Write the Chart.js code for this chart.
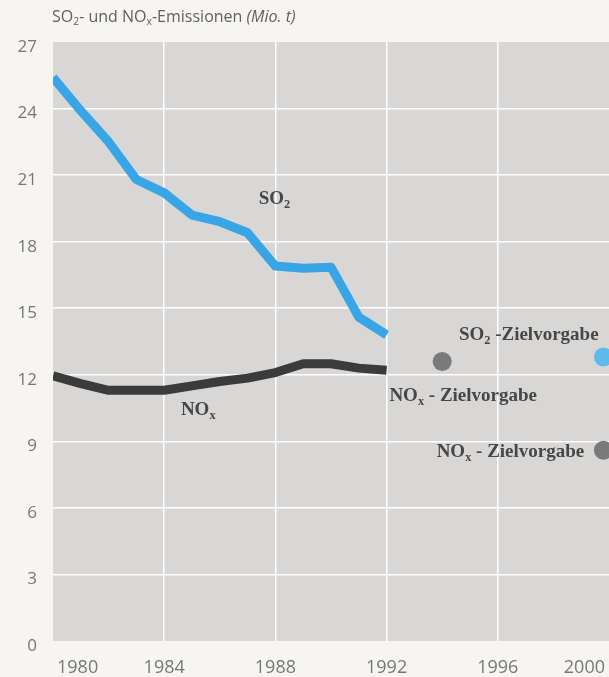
<!DOCTYPE html>
<html>
<head>
<meta charset="utf-8">
<script src="https://cdn.jsdelivr.net/npm/chart.js@4"></script>
<style>
  html, body { margin: 0; padding: 0; background: #f6f5f1; }
  #wrap { width: 609px; height: 677px; position: relative; }
</style>
</head>
<body>
<div id="wrap"><canvas id="chart" width="609" height="677"></canvas></div>
<script>
// Emissions data (Mio. t)
const years = [1980, 1981, 1982, 1983, 1984, 1985, 1986, 1987, 1988, 1989, 1990, 1991, 1992];
const so2Values = [25.4, 23.9, 22.5, 20.8, 20.2, 19.2, 18.9, 18.4, 16.9, 16.8, 16.85, 14.6, 13.8];
const noxValues = [11.95, 11.6, 11.3, 11.3, 11.3, 11.5, 11.7, 11.85, 12.1, 12.5, 12.5, 12.3, 12.2];

// Target points (Zielvorgaben)
const so2TargetYears = [1999.8];
const so2TargetValues = [12.8];
const noxTargetYears = [1994, 1999.8];
const noxTargetValues = [12.6, 8.6];

// Axis tick labels
const yearTicks = [1980, 1984, 1988, 1992, 1996, 2000];
const valueTicks = [0, 3, 6, 9, 12, 15, 18, 21, 24, 27];

const SANS = '"Open Sans", "DejaVu Sans", sans-serif';
const SERIF = '"Liberation Serif", "DejaVu Serif", serif';

// draws text made of parts, some of them subscript or italic
function drawRich(ctx, parts, x, y, size, family, weight, color) {
    ctx.save();
    ctx.fillStyle = color;
    ctx.textBaseline = 'middle';
    ctx.textAlign = 'left';
    let cx = x;
    parts.forEach(p => {
        const s = p.sub ? size * 0.65 : size;
        ctx.font = (p.italic ? 'italic ' : '') + weight + ' ' + s + 'px ' + family;
        ctx.fillText(p.t, cx, p.sub ? y + size * 0.3 : y);
        cx += ctx.measureText(p.t).width;
    });
    ctx.restore();
}

const textLabels = [
    { parts: [{ t: 'SO' }, { t: '2', sub: true }], year: 1987.4, value: 19.9 },
    { parts: [{ t: 'NO' }, { t: 'x', sub: true }], year: 1984.6, value: 10.4 },
    { parts: [{ t: 'SO' }, { t: '2', sub: true }, { t: ' -Zielvorgabe' }], year: 1994.6, value: 13.8 },
    { parts: [{ t: 'NO' }, { t: 'x', sub: true }, { t: ' - Zielvorgabe' }], year: 1992.1, value: 11.05 },
    { parts: [{ t: 'NO' }, { t: 'x', sub: true }, { t: ' - Zielvorgabe' }], year: 1993.8, value: 8.5 }
];

const paperPlugin = {
    id: 'paper',
    beforeDraw(chart) {
        const { ctx, chartArea } = chart;
        ctx.save();
        ctx.fillStyle = '#f6f5f1';
        ctx.fillRect(0, 0, chart.width, chart.height);
        ctx.fillStyle = '#d9d7d6';
        ctx.fillRect(chartArea.left, chartArea.top, chart.width - chartArea.left, chartArea.bottom - chartArea.top);
        ctx.restore();
    },
    afterDraw(chart) {
        const { ctx, chartArea } = chart;
        const xs = chart.scales.x, ys = chart.scales.y;

        // title
        drawRich(ctx, [
            { t: 'SO' }, { t: '2', sub: true }, { t: '- und NO' }, { t: 'x', sub: true },
            { t: '-Emissionen ' }, { t: '(Mio. t)', italic: true }
        ], 52, 17, 16, SANS, '400', '#606060');

        // y tick labels
        ctx.save();
        ctx.fillStyle = '#777777';
        ctx.font = '400 17px ' + SANS;
        ctx.textAlign = 'right';
        ctx.textBaseline = 'middle';
        valueTicks.forEach(v => ctx.fillText(String(v), 37, ys.getPixelForValue(v) + 5));

        // x tick labels, kept inside the plot
        ctx.textAlign = 'left';
        ctx.font = '400 18px ' + SANS;
        yearTicks.forEach(yr => {
            const w = ctx.measureText(String(yr)).width;
            let left = xs.getPixelForValue(yr) - w / 2;
            left = Math.max(chartArea.left + 4, Math.min(left, chart.width - 4 - w));
            ctx.fillText(String(yr), left, 668);
        });
        ctx.restore();

        textLabels.forEach(l => {
            drawRich(ctx, l.parts, xs.getPixelForValue(l.year), ys.getPixelForValue(l.value),
                     19, SERIF, 'bold', '#474747');
        });
    }
};

const ctx = document.getElementById('chart').getContext('2d');
new Chart(ctx, {
    type: 'line',
    data: {
        datasets: [
            {
                label: 'SO2',
                data: years.map((y, i) => ({ x: y, y: so2Values[i] })),
                borderColor: '#37a5e6',
                borderWidth: 9,
                borderCapStyle: 'butt',
                borderJoinStyle: 'round',
                pointRadius: 0,
                tension: 0
            },
            {
                label: 'NOx',
                data: years.map((y, i) => ({ x: y, y: noxValues[i] })),
                borderColor: '#3b3b3b',
                borderWidth: 9,
                borderCapStyle: 'butt',
                borderJoinStyle: 'round',
                pointRadius: 0,
                tension: 0
            },
            {
                label: 'SO2-Zielvorgabe',
                data: so2TargetYears.map((y, i) => ({ x: y, y: so2TargetValues[i] })),
                showLine: false,
                pointRadius: 9.5,
                pointBackgroundColor: '#5dbbec',
                pointBorderWidth: 0,
                clip: false
            },
            {
                label: 'NOx-Zielvorgabe',
                data: noxTargetYears.map((y, i) => ({ x: y, y: noxTargetValues[i] })),
                showLine: false,
                pointRadius: 9.5,
                pointBackgroundColor: '#7a7a7a',
                pointBorderWidth: 0,
                clip: false
            }
        ]
    },
    options: {
        responsive: false,
        animation: false,
        layout: { autoPadding: false, padding: { top: 42, left: 53, right: 0, bottom: 36 } },
        plugins: { legend: { display: false }, tooltip: { enabled: false } },
        scales: {
            x: {
                type: 'linear',
                min: 1980,
                max: 2000,
                afterBuildTicks: axis => { axis.ticks = yearTicks.map(v => ({ value: v })); },
                ticks: { display: false },
                border: { display: false },
                grid: {
                    drawTicks: false,
                    lineWidth: 1.5,
                    color: c => (c.tick && (c.tick.value === 1980 || c.tick.value === 2000)) ? 'rgba(0,0,0,0)' : '#ffffff'
                }
            },
            y: {
                min: 0,
                max: 27,
                afterBuildTicks: axis => { axis.ticks = valueTicks.map(v => ({ value: v })); },
                ticks: { display: false },
                border: { display: false },
                grid: {
                    drawTicks: false,
                    lineWidth: 1.5,
                    color: c => (c.tick && (c.tick.value === 0 || c.tick.value === 27)) ? 'rgba(0,0,0,0)' : '#ffffff'
                }
            }
        }
    },
    plugins: [paperPlugin]
});
</script>
</body>
</html>
